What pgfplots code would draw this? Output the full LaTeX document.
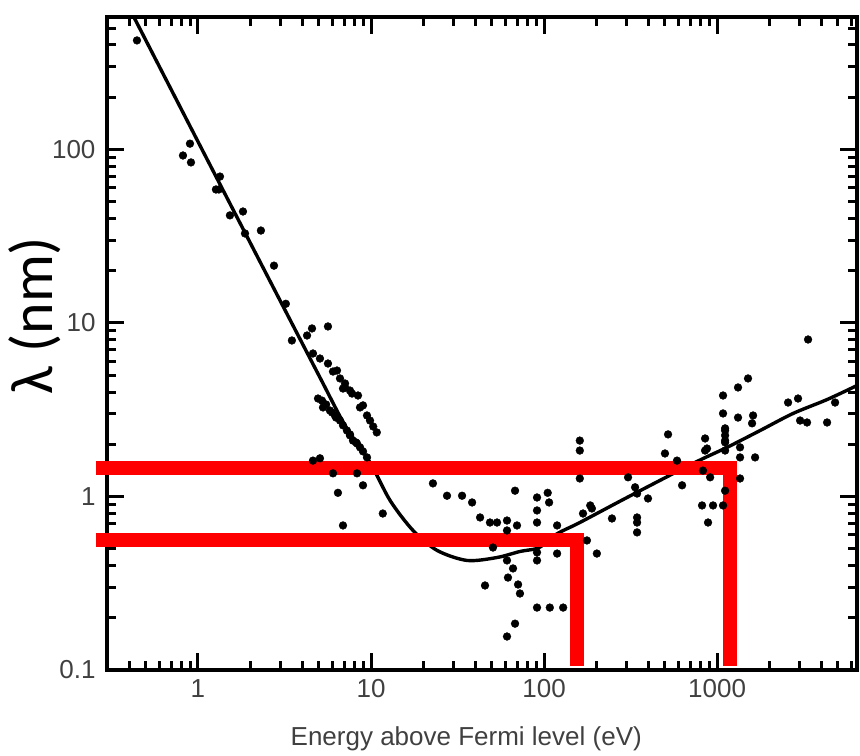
\documentclass[border=0pt]{standalone}
\usepackage{fontspec}
\setmainfont{Liberation Sans}
\newfontfamily\calibri{Carlito}
\usepackage{pgfplots}
\pgfplotsset{compat=1.18}
\begin{document}
\begin{tikzpicture}
\begin{axis}[
  xmode=log, ymode=log,
  scale only axis, width=750pt, height=653pt,
  xmin=0.298, xmax=6440, ymin=0.1, ymax=580,
  axis line style={line width=4pt, line cap=rect},
  tick style={black, line width=3pt},
  major tick length=17pt, minor tick length=9pt,
  xtick={1,10,100,1000}, xticklabels={1,10,100,1000},
  ytick={0.1,1,10,100}, yticklabels={0.1,1,10,100},
  minor xtick={0.3,0.4,0.5,0.6,0.7,0.8,0.9,2,3,4,5,6,7,8,9,20,30,40,50,60,70,80,90,200,300,400,500,600,700,800,900,2000,3000,4000,5000,6000},
  minor ytick={0.2,0.3,0.4,0.5,0.6,0.7,0.8,0.9,2,3,4,5,6,7,8,9,20,30,40,50,60,70,80,90,200,300,400,500},
  /pgf/number format/assume math mode=true,
  ticklabel style={font=\fontsize{26}{26}\selectfont, text=black!75},
  yticklabel style={xshift=-8pt},
  xticklabel style={yshift=-6pt},
  xlabel={Energy above Fermi level (eV)},
  xlabel style={font=\fontsize{26}{26}\selectfont, text=black!75, at={(axis description cs:0.479,-0.115)}, anchor=base},
  ylabel={\calibri λ (nm)},
  ylabel style={font=\fontsize{60}{60}\selectfont, text=black, at={(axis description cs:-0.072,0.543)}, anchor=base, rotate=0},
  clip=false,
]
% universal curve
\addplot[black, line width=3.4pt, smooth] coordinates {
(0.426,580) (1,111) (2.28,22.6) (5.07,4.85) (7.08,2.57) (9.87,1.57) (12.9,0.948)
(17.5,0.637) (24.1,0.489) (35.9,0.428) (53.5,0.445) (72.6,0.482) (90,0.50)
(100,0.53) (119,0.61) (161,0.708) (302,0.987) (726,1.55) (1143,1.92) (1774,2.40)
(2750,3.01) (4325,3.62) (6440,4.36)
};
% measured points
\addplot[only marks, mark=*, mark size=3.9pt, line width=0.4pt, black] coordinates {
(0.444,425) (0.899,108) (0.819,92.3) (0.911,84.2) (1.34,69.8) (1.27,58.8) (1.32,58.8)
(1.53,41.7) (1.82,43.9) (1.87,32.8) (2.31,34.1) (2.75,21.4) (3.22,12.9) (3.49,7.93)
(4.56,9.30) (5.64,9.55) (4.27,8.47) (4.62,6.67) (5.07,6.24) (5.64,5.84) (6.03,5.25)
(6.36,5.32) (6.62,4.79) (7.08,4.25) (7.77,3.92) (8.41,3.82) (8.64,3.26) (9.48,2.93)
(10.8,2.34) (6.89,4.19) (5.21,3.57) (5.28,3.26) (5.79,3.13) (6.62,2.74) (7.26,2.40)
(7.87,2.10) (8.64,1.92) (9.48,1.68) (6.19,2.93) (7.56,2.25) (8.30,2.02) (4.94,3.67)
(5.50,3.39) (5.95,3.05) (6.28,2.85) (6.89,2.57) (7.56,2.28) (8.19,2.05) (8.99,1.82)
(7.08,4.48) (7.56,4.08) (8.99,3.35) (9.87,2.74) (10.3,2.53)
(4.62,1.61) (5.07,1.66) (6.03,1.36) (8.30,1.36) (6.44,1.05) (8.99,1.16) (11.7,0.798)
(6.89,0.681)
(22.8,1.19) (27.5,1.01) (33.6,1.01) (38.4,0.924) (42.7,0.757) (48.7,0.708) (53.5,0.708)
(61.1,0.727) (69.8,0.681) (68.0,1.08) (91.1,0.987) (105,1.05) (107,0.924) (91.1,0.831)
(91.1,0.708) (119,0.681) (61.1,0.637) (50.7,0.508) (61.1,0.428) (66.2,0.385)
(61.9,0.341) (70.8,0.311) (72.6,0.276) (45.6,0.307) (91.1,0.476) (91.1,0.428)
(119,0.469) (91.1,0.229) (108,0.229) (129,0.229) (68.0,0.185) (61.1,0.156)
(161,2.10) (161,1.84) (161,1.27) (189,0.853) (168,0.798) (177,0.558) (202,0.469)
(247,0.747) (306,1.29) (336,1.13) (345,1.04) (399,0.974) (345,0.757) (345,0.708)
(345,0.621) (521,2.28) (500,1.77) (587,1.61) (628,1.16) (853,2.16) (853,1.84)
(829,1.41) (912,1.29) (819,0.888) (948,0.888) (1083,0.888) (887,0.708)
(1083,3.82) (1322,4.25) (1510,4.79) (1083,3.01) (1322,2.85) (1113,2.40) (1113,2.10)
(1113,1.84) (1594,2.64) (1615,2.93) (1358,1.92) (1358,1.68) (1659,1.68) (1358,1.27)
(1113,1.08) (2573,3.48) (2938,3.67) (3020,2.74) (3312,2.67) (4325,2.67) (4810,3.48)
(3357,8.03) (185,0.888) (1113,2.47) (1113,2.25) (1113,2.05) (875,1.89)
};
% red annotation lines
\addplot[red, line width=14pt, line join=miter, line cap=butt] coordinates {(0.257,1.45) (1190,1.45) (1190,0.106)};
\addplot[red, line width=14pt, line join=miter, line cap=butt] coordinates {(0.257,0.558) (155,0.558) (155,0.106)};
\end{axis}
\pgfresetboundingbox
\useasboundingbox ([shift={(-107pt,-85pt)}]current axis.south west) rectangle ([shift={(3pt,17pt)}]current axis.north east);
\end{tikzpicture}
\end{document}
